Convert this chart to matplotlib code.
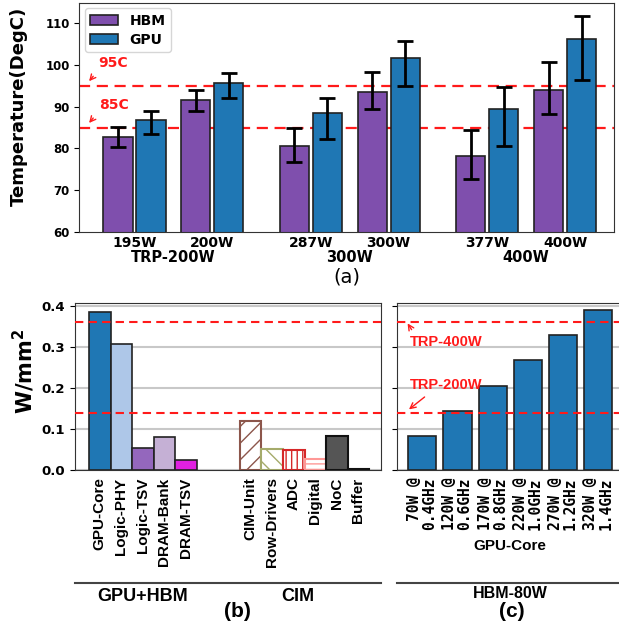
import numpy as np
import matplotlib
matplotlib.use("Agg")
import matplotlib.pyplot as plt

# ---- panel (a): temperature ----
power_labels = ["195W", "200W", "287W", "300W", "377W", "400W"]
group_labels = ["TRP-200W", "300W", "400W"]
hbm_temp = [82.7, 91.5, 80.6, 93.5, 78.3, 94.1]
hbm_lo = [2.3, 2.6, 3.9, 4.1, 5.5, 5.8]
hbm_hi = [2.5, 2.6, 4.4, 4.7, 6.1, 6.7]
gpu_temp = [86.8, 95.7, 88.4, 101.6, 89.4, 106.2]
gpu_lo = [3.4, 3.6, 6.2, 6.6, 8.8, 9.7]
gpu_hi = [2.1, 2.3, 3.6, 4.1, 5.4, 5.6]
limits_c = [85, 95]

# ---- panel (b): power density per component ----
gh_names = ["GPU-Core", "Logic-PHY", "Logic-TSV", "DRAM-Bank", "DRAM-TSV"]
gh_vals = [0.385, 0.306, 0.054, 0.081, 0.026]
cim_names = ["CIM-Unit", "Row-Drivers", "ADC", "Digital", "NoC", "Buffer"]
cim_vals = [0.120, 0.053, 0.049, 0.028, 0.083, 0.003]
trp_lines = [0.14, 0.36]

# ---- panel (c): GPU core sweep ----
core_labels = ["70W @\n0.4GHz", "120W @\n0.6GHz", "170W @\n0.8GHz",
               "220W @\n1.0GHz", "270W @\n1.2GHz", "320W @\n1.4GHz"]
core_vals = [0.084, 0.144, 0.206, 0.267, 0.329, 0.389]

NARROW = ["Liberation Sans", "DejaVu Sans"]
HBM_C = "#7f4fad"
GPU_C = "#1f77b4"
RED = "#ff1a1a"
SPINE = "#333333"

plt.rcParams["axes.edgecolor"] = SPINE

fig = plt.figure(figsize=(6.19, 6.30), dpi=100)

# ================= (a) =================
ax = fig.add_axes([0.1281, 0.6317, 0.8638, 0.364])
pos = np.array([0, 1, 2.27, 3.27, 4.54, 5.54])
w = 0.375
ax.bar(pos - 0.212, hbm_temp, w, color=HBM_C, edgecolor="#222222", lw=1.2,
       yerr=[hbm_lo, hbm_hi], capsize=5.5, error_kw=dict(elinewidth=2, capthick=2),
       label="HBM", zorder=2)
ax.bar(pos + 0.212, gpu_temp, w, color=GPU_C, edgecolor="#222222", lw=1.2,
       yerr=[gpu_lo, gpu_hi], capsize=5.5, error_kw=dict(elinewidth=2, capthick=2),
       label="GPU", zorder=2)
for v in limits_c:
    ax.axhline(v, color=RED, ls=(0, (5, 3)), lw=1.6, zorder=1)
ax.set_xlim(-0.71, 6.17)
ax.set_ylim(60, 114.9)
ax.set_yticks([60, 70, 80, 90, 100, 110])
ax.tick_params(axis="y", labelsize=8.5)
ax.tick_params(axis="x", length=0, pad=2.5)
ax.set_xticks(pos)
ax.set_xticklabels(power_labels, fontsize=10, fontweight="bold")
for lbl in ax.get_yticklabels():
    lbl.set_fontweight("bold")
for i, g in enumerate(group_labels):
    xc = (pos[2 * i] + pos[2 * i + 1]) / 2
    ax.text(xc, -0.112, g, transform=ax.get_xaxis_transform(), ha="center",
            va="center", fontsize=10.5, fontweight="bold")
ax.set_ylabel("Temperature(DegC)", fontsize=13, fontweight="bold")
ax.yaxis.set_label_coords(-0.096, 0.546)
ax.legend(loc="upper left", prop=dict(size=10, weight="bold"),
          borderpad=0.4, labelspacing=0.35, borderaxespad=0.4)
for v, ty in zip(limits_c, [90.5, 100.4]):
    ax.annotate("", xy=(-0.607, v + 0.6), xytext=(-0.508, v + 2.8),
                arrowprops=dict(arrowstyle="->", color=RED, lw=1))
    ax.text(-0.46, ty, f"{v}C", color=RED, fontsize=10, fontweight="bold",
            va="center", ha="left")

fig.text(0.5603, 0.5603, "(a)", ha="center", va="center", fontsize=14)

# ================= (b) =================
bx = fig.add_axes([0.1212, 0.2532, 0.4943, 0.2663])
gh_pos = np.arange(len(gh_names))
cim_pos = np.arange(len(cim_names)) + 7
gh_cols = ["#1f77b4", "#aec7e8", "#9467bd", "#c5b0d5", "#e020e0"]
bx.bar(gh_pos, gh_vals, 1.0, color=gh_cols, edgecolor="#222222", lw=1.2, zorder=2)
cim_face = ["white", "white", "white", "white", "#555555", "#555555"]
cim_edge = ["#8c564b", "#a5ab6b", "#d62728", "#ff9896", "#111111", "#111111"]
cim_hatch = ["//", "\\\\", "|||", "---", None, None]
for x, v, fc, ec, h in zip(cim_pos, cim_vals, cim_face, cim_edge, cim_hatch):
    bx.bar(x, v, 1.0, color=fc, edgecolor=ec, hatch=h, lw=1.5, zorder=2)
for v in trp_lines:
    bx.axhline(v, color=RED, ls=(0, (4, 2.5)), lw=1.5, zorder=3)
bx.set_ylim(0, 0.407)
bx.set_xlim(-1.15, 13.05)
bx.set_yticks([0.0, 0.1, 0.2, 0.3, 0.4])
bx.yaxis.grid(True, color="#c8c8c8", lw=1.5, zorder=0)
bx.set_axisbelow(True)
bx.tick_params(axis="y", labelsize=9.5)
bx.tick_params(axis="x", length=0, pad=5)
for lbl in bx.get_yticklabels():
    lbl.set_fontweight("bold")
bx.set_xticks(list(gh_pos) + list(cim_pos))
bx.set_xticklabels(gh_names + cim_names, rotation=90, family=NARROW,
                   fontsize=11, fontweight="bold")
bx.set_ylabel("W/mm$^\\mathbf{2}$", fontsize=15, fontweight="bold")
bx.yaxis.set_label_coords(-0.124, 0.59)
bx.plot([0, 1], [-0.668, -0.668], transform=bx.transAxes, color="#444444",
        lw=1.5, clip_on=False)
bx.text(2, -0.752, "GPU+HBM", transform=bx.get_xaxis_transform(), ha="center",
        va="center", family=NARROW, fontsize=13, fontweight="bold")
bx.text(9.2, -0.752, "CIM", transform=bx.get_xaxis_transform(), ha="center",
        va="center", family=NARROW, fontsize=13, fontweight="bold")
fig.text(0.3829, 0.029, "(b)", ha="center", va="center", family=NARROW,
         fontsize=15, fontweight="bold")

# ================= (c) =================
cx = fig.add_axes([0.6418, 0.2532, 0.3679, 0.2663])
c_pos = np.arange(len(core_labels))
cx.bar(c_pos, core_vals, 0.8, color=GPU_C, edgecolor="#222222", lw=1.2, zorder=2)
for v in trp_lines:
    cx.axhline(v, color=RED, ls=(0, (4, 2.5)), lw=1.5, zorder=3)
cx.set_ylim(0, 0.407)
cx.set_xlim(-0.71, 5.76)
cx.set_yticks([0.0, 0.1, 0.2, 0.3, 0.4])
cx.set_yticklabels([])
cx.yaxis.grid(True, color="#c8c8c8", lw=1.5, zorder=0)
cx.set_axisbelow(True)
cx.tick_params(axis="x", length=0, pad=5)
cx.set_xticks(c_pos)
cx.set_xticklabels(core_labels, rotation=90, family="DejaVu Sans Mono",
                   fontsize=10.5, fontweight="bold", linespacing=1.0)
for lbl in cx.get_xticklabels():
    lbl.set_multialignment("right")
cx.text(2.5, -0.45, "GPU-Core", transform=cx.get_xaxis_transform(), ha="center",
        va="center", family=NARROW, fontsize=11, fontweight="bold")
cx.plot([0, 1], [-0.668, -0.668], transform=cx.transAxes, color="#444444",
        lw=1.5, clip_on=False)
cx.text(2.5, -0.735, "HBM-80W", transform=cx.get_xaxis_transform(), ha="center",
        va="center", family=NARROW, fontsize=11.5, fontweight="bold")
cx.annotate("", xy=(-0.46, 0.3625), xytext=(-0.26, 0.336),
            arrowprops=dict(arrowstyle="->", color=RED, lw=1))
cx.text(-0.35, 0.312, "TRP-400W", color=RED, family=NARROW, fontsize=10.5,
        fontweight="bold", va="center", ha="left")
cx.annotate("", xy=(-0.44, 0.144), xytext=(0.128, 0.1825),
            arrowprops=dict(arrowstyle="->", color=RED, lw=1))
cx.text(-0.35, 0.2085, "TRP-200W", color=RED, family=NARROW, fontsize=10.5,
        fontweight="bold", va="center", ha="left")
fig.text(0.8267, 0.029, "(c)", ha="center", va="center", family=NARROW,
         fontsize=15, fontweight="bold")

fig.savefig("out.png", dpi=100)
